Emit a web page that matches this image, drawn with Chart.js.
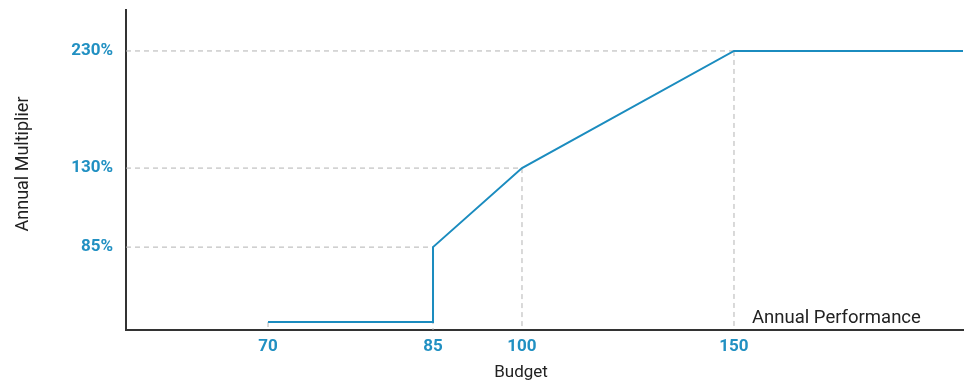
<!DOCTYPE html>
<html>
<head>
<meta charset="utf-8">
<script src="https://cdn.jsdelivr.net/npm/chart.js@4/dist/chart.umd.min.js"></script>
<style>
  html, body { margin: 0; padding: 0; background: #ffffff; }
  #wrap { width: 965px; height: 382px; position: relative; }
</style>
</head>
<body>
<div id="wrap"><canvas id="c" width="965" height="382"></canvas></div>
<script>
// ---- data ----
const budget = [70, 85, 85, 100, 150, 200];
const multiplier = [0, 0, 85, 130, 230, 230];
const xTickValues = [70, 85, 100, 150];
const yTickValues = [85, 130, 230];
const xTitle = 'Budget';
const yTitle = 'Annual Multiplier';
const curveLabel = 'Annual Performance';

// ---- schematic (non-linear) axis layout: [value, fraction of axis length] ----
const X_WARP = [[50, 0], [70, 0.1697], [85, 0.3668], [100, 0.4731], [150, 0.7264], [200, 1.0]];
const Y_WARP = [[-10, 0], [0, 0.025], [85, 0.259], [130, 0.506], [230, 0.872], [280, 1.0]];

function interp(w, v, from, to) {
  if (v <= w[0][from]) {
    const a = w[0], b = w[1];
    return a[to] + (v - a[from]) * (b[to] - a[to]) / (b[from] - a[from]);
  }
  for (let i = 1; i < w.length; i++) {
    if (v <= w[i][from]) {
      const a = w[i - 1], b = w[i];
      return a[to] + (v - a[from]) * (b[to] - a[to]) / (b[from] - a[from]);
    }
  }
  const a = w[w.length - 2], b = w[w.length - 1];
  return a[to] + (v - a[from]) * (b[to] - a[to]) / (b[from] - a[from]);
}

class WarpScale extends Chart.LinearScale {
  _warp() { return this.id === 'x' ? X_WARP : Y_WARP; }
  determineDataLimits() {
    const w = this._warp();
    this.min = w[0][0];
    this.max = w[w.length - 1][0];
  }
  buildTicks() {
    return (this.id === 'x' ? xTickValues : yTickValues).map(v => ({ value: v }));
  }
  getPixelForValue(value) {
    const f = interp(this._warp(), value, 0, 1);
    return this.isHorizontal() ? this.left + f * this.width : this.bottom - f * this.height;
  }
  getValueForPixel(pixel) {
    const f = this.isHorizontal() ? (pixel - this.left) / this.width : (this.bottom - pixel) / this.height;
    return interp(this._warp(), f, 1, 0);
  }
}
WarpScale.id = 'warp';
WarpScale.defaults = Chart.LinearScale.defaults;
Chart.register(WarpScale);

// ---- build datasets ----
const points = budget.map((b, i) => ({ x: b, y: multiplier[i] }));
const xMin = X_WARP[0][0];
const yMin = Y_WARP[0][0];

const dropSets = [];
xTickValues.forEach(xv => {
  const ys = points.filter(p => p.x === xv).map(p => p.y);
  if (ys.length) {
    dropSets.push({ x: xv, y: Math.max(...ys), dir: 'v' });
  }
});
yTickValues.forEach(yv => {
  const xs = points.filter(p => p.y === yv).map(p => p.x);
  if (xs.length) {
    dropSets.push({ x: Math.min(...xs), y: yv, dir: 'h' });
  }
});

const guideStyle = {
  borderColor: '#b3b3b3',
  borderWidth: 1,
  borderDash: [5, 4],
  pointRadius: 0,
  fill: false,
  tension: 0,
  order: 2
};

const datasets = [{
  label: curveLabel,
  data: points,
  borderColor: '#1b8cbf',
  borderWidth: 2,
  pointRadius: 0,
  fill: false,
  tension: 0,
  order: 1
}];
dropSets.forEach(d => {
  datasets.push(Object.assign({
    label: 'guide',
    data: d.dir === 'v' ? [{ x: d.x, y: d.y }, { x: d.x, y: yMin }] : [{ x: xMin, y: d.y }, { x: d.x, y: d.y }]
  }, guideStyle));
});

const FAMILY = 'Roboto, "Liberation Sans", sans-serif';
const textPlugin = {
  id: 'texts',
  afterDraw(chart) {
    const ctx = chart.ctx;
    const xs = chart.scales.x;
    ctx.save();
    ctx.fillStyle = '#222222';
    ctx.textBaseline = 'alphabetic';
    // curve label near the end of the plateau
    ctx.font = '18.5px ' + FAMILY;
    ctx.textAlign = 'left';
    ctx.fillText(curveLabel, xs.getPixelForValue(150) + 18, 323);
    // x axis title
    ctx.font = '17px ' + FAMILY;
    ctx.textAlign = 'center';
    ctx.fillText(xTitle, 521, 376.5);
    // y axis title
    ctx.font = '18px ' + FAMILY;
    ctx.translate(28, 164);
    ctx.rotate(-Math.PI / 2);
    ctx.fillText(yTitle, 0, 0);
    ctx.restore();
  }
};

new Chart(document.getElementById('c'), {
  type: 'line',
  data: { datasets },
  plugins: [textPlugin],
  options: {
    responsive: false,
    animation: false,
    layout: { padding: { top: 10, right: 2, left: 0, bottom: 0 } },
    plugins: { legend: { display: false }, tooltip: { enabled: false } },
    scales: {
      x: {
        type: 'warp',
        position: 'bottom',
        grid: { display: false, drawTicks: false },
        border: { display: true, color: '#333333', width: 2 },
        ticks: {
          padding: 7,
          color: '#2190c2',
          font: { family: 'Roboto', size: 17, weight: 'bold' },
          maxRotation: 0,
          autoSkip: false,
          callback: v => String(v)
        },
        afterFit: s => { s.height = 52; s.paddingLeft = 0; s.paddingRight = 0; }
      },
      y: {
        type: 'warp',
        position: 'left',
        grid: { display: false, drawTicks: false },
        border: { display: true, color: '#333333', width: 2 },
        ticks: {
          padding: 13,
          color: '#2190c2',
          font: { family: 'Roboto', size: 17, weight: 'bold' },
          autoSkip: false,
          callback: v => v + '%'
        },
        afterFit: s => { s.width = 126; s.paddingTop = 0; s.paddingBottom = 0; }
      }
    }
  }
});
</script>
</body>
</html>
